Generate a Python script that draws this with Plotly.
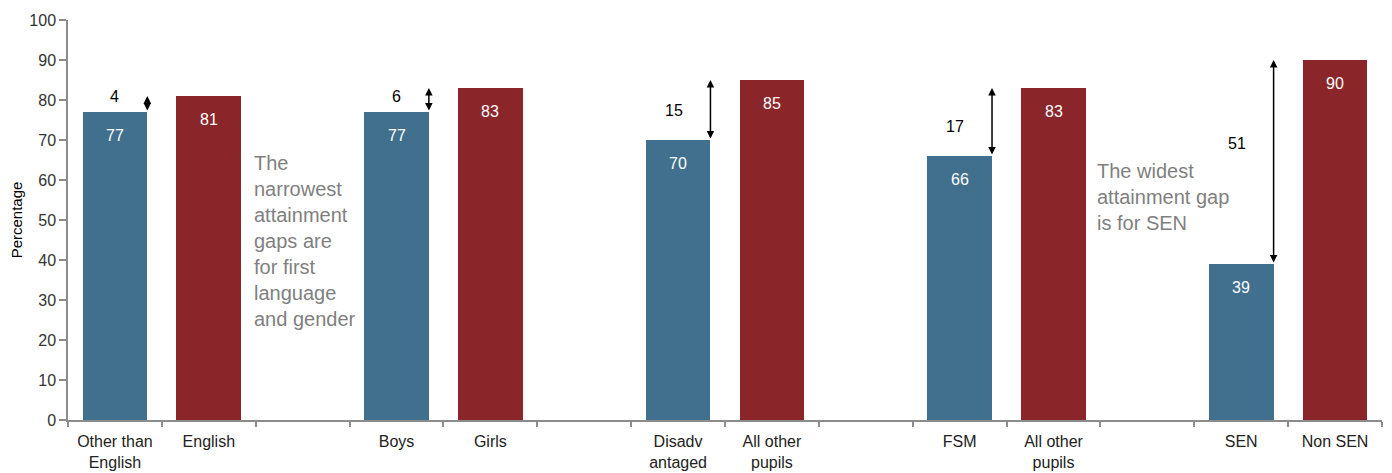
import plotly.graph_objects as go

categories = ["Other than<br>English", "English", "Boys", "Girls", "Disadv<br>antaged",
              "All other<br>pupils", "FSM", "All other<br>pupils", "SEN", "Non SEN"]
values = [77, 81, 77, 83, 70, 85, 66, 83, 39, 90]
group = ["a", "b", "a", "b", "a", "b", "a", "b", "a", "b"]
gap_values = [4, 6, 15, 17, 51]
y_ticks = [0, 10, 20, 30, 40, 50, 60, 70, 80, 90, 100]

# layout constants
slots = [0, 1, 3, 4, 6, 7, 9, 10, 12, 13]
bar_w = 0.69
gap_label_y = [80.8, 81.0, 77.5, 73.3, 69.2]
gap_label_dx = [0, 0, -0.04, -0.05, -0.05]
BLUE = "#41708F"
RED = "#8A2529"
FONT = "Liberation Sans, Arial, sans-serif"

colors = [BLUE if g == "a" else RED for g in group]

fig = go.Figure()
fig.add_trace(go.Bar(x=slots, y=values, width=bar_w, marker=dict(color=colors, line=dict(width=0)),
                     showlegend=False, hoverinfo="skip"))

ann = []
for s, v in zip(slots, values):
    ann.append(dict(x=s, y=v, xref="x", yref="y", text=str(v), showarrow=False,
                    yshift=-23, font=dict(color="white", size=16, family=FONT)))

for i, gv in enumerate(gap_values):
    bi = 2 * i
    xb = slots[bi] + bar_w / 2
    lo = values[bi]
    hi = values[bi + 1]
    ann.append(dict(x=xb, y=hi, ax=xb, ay=lo, xref="x", yref="y", axref="x", ayref="y",
                    text="", showarrow=True, arrowhead=2, arrowside="end+start",
                    arrowsize=1, arrowwidth=1.5, arrowcolor="black", standoff=0, startstandoff=0))
    ann.append(dict(x=slots[bi] + gap_label_dx[i], y=gap_label_y[i], xref="x", yref="y",
                    text=str(gv), showarrow=False, font=dict(color="black", size=16, family=FONT)))

ann.append(dict(x=1.46, y=67.5, xref="x", yref="y", xanchor="left", yanchor="top", align="left",
                text="The<br>narrowest<br>attainment<br>gaps are<br>for first<br>language<br>and gender",
                showarrow=False, font=dict(color="#7f7f7f", size=20, family=FONT)))
ann.append(dict(x=10.44, y=65.5, xref="x", yref="y", xanchor="left", yanchor="top", align="left",
                text="The widest<br>attainment gap<br>is for SEN",
                showarrow=False, font=dict(color="#7f7f7f", size=20, family=FONT)))

fig.update_layout(
    width=1392, height=473,
    margin=dict(l=60, r=18, t=12, b=61, autoexpand=False),
    plot_bgcolor="white", paper_bgcolor="white",
    font=dict(family=FONT, color="#222222", size=16),
    annotations=ann,
    bargap=0,
)
fig.update_xaxes(range=[-0.5, 13.5], tickmode="array", tickvals=slots, ticktext=categories,
                 ticks="", showline=True, linecolor="#8c8c8c", linewidth=1.5, showgrid=False,
                 zeroline=False, automargin=False, tickfont=dict(size=16, color="#222222"),
                 ticklabelstandoff=6,
                 minor=dict(tickmode="linear", tick0=0.5, dtick=1, ticks="outside", ticklen=5,
                            tickcolor="#8c8c8c", tickwidth=1.5, showgrid=False))
fig.update_yaxes(range=[0, 100], tickmode="array", tickvals=y_ticks, ticks="outside", ticklen=7,
                 tickcolor="#8c8c8c", tickwidth=1.5, showline=True, linecolor="#8c8c8c", linewidth=1.5,
                 showgrid=False, zeroline=False, automargin=False, tickfont=dict(size=16, color="#333333"),
                 title=dict(text="Percentage", font=dict(size=15, color="black"), standoff=10))

fig.write_html("out.html")
